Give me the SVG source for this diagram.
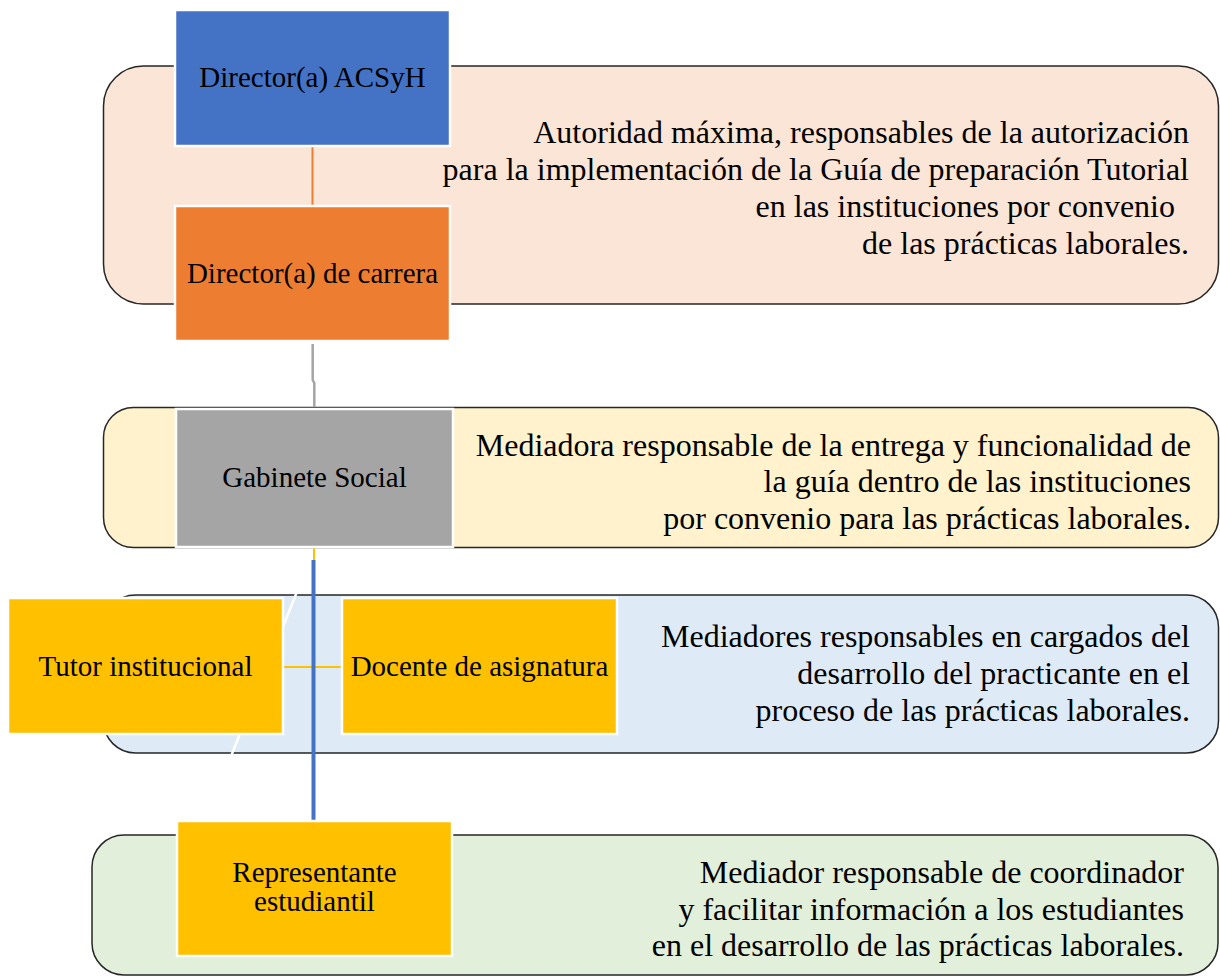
<svg xmlns="http://www.w3.org/2000/svg" width="1220" height="978" viewBox="0 0 1220 978">
<style>
.band{stroke:#262626;stroke-width:1.5}
.node{stroke:#ffffff;stroke-width:2.5}
.lbl{font-family:"Liberation Serif","Times New Roman",serif;font-size:29px;fill:#000000}
.desc{font-family:"Liberation Serif","Times New Roman",serif;font-size:32px;fill:#000000;text-anchor:end}
.c{text-anchor:middle}
.conn{fill:none}
</style>
<defs>
<clipPath id="clipB2"><rect x="103" y="407" width="1117" height="134"/></clipPath>
</defs>
<rect width="1220" height="978" fill="#ffffff"/>
<g id="band1">
<rect class="band" x="103.5" y="66" width="1115" height="238" rx="40" fill="#FBE5D6"/>
<text class="desc" x="1189" y="143">Autoridad máxima, responsables de la autorización</text>
<text class="desc" x="1189" y="180">para la implementación de la Guía de preparación Tutorial</text>
<text class="desc" x="1175" y="217">en las instituciones por convenio</text>
<text class="desc" x="1189" y="254">de las prácticas laborales.</text>
</g>
<g id="band2">
<rect class="band" x="103.5" y="407.5" width="1115" height="140" rx="30" fill="#FFF2CC"/>
<g clip-path="url(#clipB2)">
<text class="desc" x="1191" y="456">Mediadora responsable de la entrega y funcionalidad de</text>
<text class="desc" x="1191" y="492">la guía dentro de las instituciones</text>
<text class="desc" x="1191" y="529">por convenio para las prácticas laborales.</text>
</g>
</g>
<g id="band3">
<rect class="band" x="103.5" y="595" width="1115" height="158" rx="32" fill="#DEEBF7"/>
<text class="desc" x="1190" y="647">Mediadores responsables en cargados del</text>
<text class="desc" x="1190" y="684">desarrollo del practicante en el</text>
<text class="desc" x="1190" y="721">proceso de las prácticas laborales.</text>
</g>
<g id="band4">
<rect class="band" x="92" y="835" width="1126" height="140" rx="32" fill="#E2EFDA"/>
<text class="desc" x="1184" y="883">Mediador responsable de coordinador</text>
<text class="desc" x="1184" y="920">y facilitar información a los estudiantes</text>
<text class="desc" x="1184" y="956">en el desarrollo de las prácticas laborales.</text>
</g>
<g id="connectors">
<line class="conn" x1="312.5" y1="146" x2="312.5" y2="206" stroke="#ED7D31" stroke-width="2"/>
<path class="conn" d="M312.7 344 V380 L314.3 383 V407" stroke="#A5A5A5" stroke-width="2.5"/>
<line class="conn" x1="314" y1="548" x2="314" y2="600" stroke="#FFC000" stroke-width="2"/>
<line class="conn" x1="296.5" y1="593" x2="231.5" y2="755" stroke="#ffffff" stroke-width="2.5"/>
<line class="conn" x1="283" y1="667" x2="342" y2="667" stroke="#FFC000" stroke-width="2"/>
<line class="conn" x1="313.5" y1="560" x2="313.5" y2="823" stroke="#4472C4" stroke-width="4"/>
</g>
<g id="n_director_acsyh">
<rect class="node" x="175" y="10" width="275" height="136" fill="#4472C4"/>
<text class="lbl c" x="312.5" y="87">Director(a) ACSyH</text>
</g>
<g id="n_director_carrera">
<rect class="node" x="175" y="206" width="275" height="135" fill="#ED7D31"/>
<text class="lbl c" x="312.5" y="283">Director(a) de carrera</text>
</g>
<g id="n_gabinete">
<rect class="node" x="176" y="409" width="277" height="138" fill="#A5A5A5"/>
<text class="lbl c" x="314.5" y="487">Gabinete Social</text>
</g>
<g id="n_tutor">
<rect class="node" x="8" y="598" width="275" height="136" fill="#FFC000"/>
<text class="lbl c" x="145.5" y="676">Tutor institucional</text>
</g>
<g id="n_docente">
<rect class="node" x="342" y="598" width="275" height="136" fill="#FFC000"/>
<text class="lbl c" x="479.5" y="676">Docente de asignatura</text>
</g>
<g id="n_representante">
<rect class="node" x="177" y="821" width="275" height="135" fill="#FFC000"/>
<text class="lbl c" x="314.5" y="882">Representante</text>
<text class="lbl c" x="314.5" y="911">estudiantil</text>
</g>
</svg>
